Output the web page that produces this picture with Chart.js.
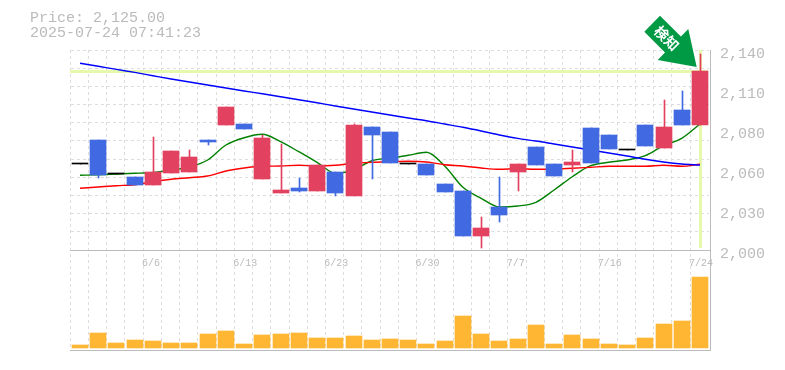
<!DOCTYPE html>
<html>
<head>
<meta charset="utf-8">
<style>html,body{margin:0;padding:0;background:#fff}canvas{display:block}</style>
<script src="https://cdn.jsdelivr.net/npm/chart.js@4"></script>
</head>
<body>
<canvas id="c" width="785" height="370"></canvas>
<script>
const categories = ['','','','','6/6','','','','','6/13','','','','','6/23','','','','','6/30','','','','','7/7','','','','','7/16','','','','','7/24'];
const openPrices  = [2060,2077,2053,2051.1,2045.5,2053.9,2054.6,2077,2087.5,2088.2,2049.7,2039.9,2043.4,2041.3,2054.6,2037.8,2086.1,2082.6,2060,2060.2,2046.2,2041.3,2009.8,2030.1,2054.6,2072.1,2060.2,2059.5,2085.4,2080.5,2069.8,2087.5,2071.4,2098,2087.5];
const closePrices = [2060,2052.7,2053,2045.5,2054.6,2069.3,2065.1,2075.6,2100.1,2084.7,2078.4,2042,2041.3,2059.5,2039.9,2087.5,2080.5,2060.9,2060,2052.5,2040.6,2009.8,2015.4,2024.5,2060.2,2059.5,2051.8,2061.6,2060.9,2070.7,2069.8,2072.8,2086.1,2087.5,2125];
const highPrices  = [2060,2077,2053,2051.1,2079.1,2069.3,2070,2077,2100.1,2088.2,2080.5,2074.2,2050.4,2059.5,2054.6,2088.2,2086.1,2082.6,2060,2060.2,2046.2,2041.3,2023.1,2051.1,2060.2,2072.1,2060.2,2070,2085.4,2080.5,2069.8,2087.5,2105,2111.3,2137.2];
const lowPrices   = [2060,2050.6,2053,2045.5,2045.5,2053.9,2054.6,2073.5,2087.5,2084.7,2049.7,2039.9,2040.6,2041.3,2037.8,2037.8,2049.7,2060.9,2060,2052.5,2040.6,2009.8,2001.4,2019.6,2041.3,2059.5,2051.8,2054.6,2060.9,2070.7,2069.8,2072.8,2071.4,2087.5,2087.5];
const blueLine  = [2130.7,2128.6,2126.4,2124.3,2122,2119.7,2117.6,2115.5,2113.4,2111.3,2109.4,2107.3,2105.2,2103.1,2100.8,2098.7,2096.6,2094.5,2092.4,2090.5,2088.2,2085.9,2083.3,2080.5,2078.1,2076.3,2074.2,2072.1,2070,2067.9,2065.8,2063.5,2061.6,2060.2,2059.5];
const redLine   = [2043.2,2044.1,2045,2045.7,2047.8,2049.5,2050.6,2051.8,2055.3,2057.4,2058.6,2058.8,2059.3,2058.8,2059.3,2060.7,2061.4,2061.8,2062.1,2061.6,2059.7,2058.8,2057.4,2056.5,2056.9,2056.5,2056.7,2057.2,2057.9,2058.6,2058.6,2058.6,2059.3,2058.6,2060];
const greenLine = [2052.3,2052.7,2053.2,2053.7,2054.3,2056,2058.1,2063,2073.5,2078.6,2081,2075.8,2068.8,2061.4,2053.7,2056,2062.5,2064.2,2066.3,2068.4,2058.8,2043.9,2036.2,2030.1,2030.8,2033.4,2042,2051.3,2059,2061.4,2063,2066,2073,2078.2,2088.2];
const volumes = [3,15,5,8,7,5,5,14,17,4,13,14,15,10,10,12,8,9,8,4,7,32,14,7,9,23,4,13,9,4,3,10,24,27,71];
const priceTicks  = [2140,2112,2084,2056,2028,2000];
const priceLabels = ['2,140','2,110','2,080','2,060','2,030','2,000'];
const gridPrices = [2140,2127.3,2114.5,2101.8,2089.1,2076.4,2063.6,2050.9,2038.2,2025.5,2012.7,2000];
const titleLines = ['Price: 2,125.00','2025-07-24 07:41:23'];
const signalPrice = 2125;
const signalText = ['検','知'];

const RED='#e2425f', BLUE='#4169e1', GRID='#dddddd', FRAME='#bbbbbb', TXT='#bbbbbb', HL='#e6f8ab';
const candleColor = openPrices.map((o,i)=> o===closePrices[i] ? '#000000' : (closePrices[i]>o ? RED : BLUE));
const MONO = '"Liberation Mono", monospace';

const snapBars = {
  id:'snapBars',
  afterDatasetsUpdate(chart){
    chart.data.datasets.forEach((ds,i)=>{
      if(ds.type!=='bar') return;
      chart.getDatasetMeta(i).data.forEach(el=>{
        el.x = Math.round(el.x) + (ds.isWick ? 0.5 : 0);
        el.y = Math.round(el.y);
        el.base = Math.round(el.base);
        if(el.base===el.y && !ds.isWick) el.base = el.y+1;
      });
    });
  }
};
const shiftAxis = { id:'shiftAxis', afterLayout(chart){ chart.scales.price.left = 710; } };
const highlight = {
  id:'highlight',
  beforeDatasetsDraw(chart){
    const {ctx,scales:{price,x},chartArea:a}=chart;
    ctx.save();
    ctx.fillStyle=HL;
    const yp=Math.round(price.getPixelForValue(signalPrice));
    ctx.fillRect(a.left-1,yp-1,a.right-a.left,3);
    const xp=Math.round(x.getPixelForValue(categories.length-1));
    ctx.fillRect(xp-1,a.top,3,price.getPixelForValue(2000)-a.top-2);
    ctx.restore();
  }
};
const overlay = {
  id:'overlay',
  afterDraw(chart){
    const {ctx}=chart;
    ctx.save();
    ctx.fillStyle=TXT;
    ctx.font='15px '+MONO;
    ctx.textAlign='left';
    ctx.textBaseline='middle';
    ctx.fillText(titleLines[0],30,18);
    ctx.fillText(titleLines[1],30,33);
    const pts=[[660,15.7],[680.9,36.6],[688.3,29],[696.7,67],[657.7,60],[665,52.5],[644.3,31.7]];
    ctx.fillStyle='#009944';
    ctx.beginPath();
    pts.forEach((p,i)=> i?ctx.lineTo(p[0],p[1]):ctx.moveTo(p[0],p[1]));
    ctx.closePath();ctx.fill();
    ctx.fillStyle='#ffffff';
    ctx.font='bold 14px "Noto Sans CJK JP"';
    ctx.textAlign='center';
    [[661.7,33.3],[671.7,43.3]].forEach((p,i)=>{
      ctx.save();ctx.translate(p[0],p[1]);ctx.rotate(Math.PI/4);ctx.fillText(signalText[i],0,0);ctx.restore();
    });
    ctx.restore();
  }
};
const lineDs=(data,color)=>({type:'line',data,borderColor:color,borderWidth:1.4,pointRadius:0,cubicInterpolationMode:'monotone',fill:false,yAxisID:'price',xAxisID:'x',order:3});

new Chart(document.getElementById('c'),{
  data:{
    labels:categories,
    datasets:[
      {type:'bar',data:volumes,backgroundColor:'#ffb733',barThickness:16,grouped:false,yAxisID:'vol',xAxisID:'x',order:4},
      lineDs(blueLine,'#0000ff'),
      lineDs(redLine,'#ff0000'),
      lineDs(greenLine,'#008000'),
      {type:'bar',isWick:true,data:highPrices.map((h,i)=>[lowPrices[i],h]),backgroundColor:candleColor,barThickness:1,grouped:false,yAxisID:'price',xAxisID:'x',order:2},
      {type:'bar',data:openPrices.map((o,i)=>[o,closePrices[i]]),backgroundColor:candleColor,barThickness:16,minBarLength:1,grouped:false,yAxisID:'price',xAxisID:'x',order:1}
    ]
  },
  options:{
    responsive:false,animation:false,
    layout:{padding:{left:70.9,top:50,bottom:20,right:0}},
    plugins:{legend:{display:false},tooltip:{enabled:false},title:{display:false}},
    scales:{
      price:{
        axis:'y',type:'linear',position:'right',min:1930,max:2140,
        afterFit(s){s.width=75.9;},
        afterBuildTicks(s){s.ticks=priceTicks.map(value=>({value}));},
        grid:{display:false,drawTicks:false},
        border:{display:true,color:FRAME,width:1},
        ticks:{autoSkip:false,color:TXT,font:{family:MONO,size:15},padding:10,labelOffset:4,callback:(v,i)=>priceLabels[i]}
      },
      yGrid:{
        axis:'y',type:'linear',position:'left',min:1930,max:2140,
        afterFit(s){s.width=0;},
        afterBuildTicks(s){s.ticks=gridPrices.map(value=>({value}));},
        grid:{color:GRID,lineWidth:1,drawTicks:false},
        border:{display:false,dash:[3,3]},
        ticks:{display:false,autoSkip:false}
      },
      vol:{axis:'y',type:'linear',display:false,min:-2,max:298},
      xGrid:{
        axis:'x',type:'linear',position:{price:1930},min:0,max:35,
        afterBuildTicks(s){s.ticks=categories.map((c,k)=>({value:k-0.038}));},
        grid:{color:GRID,lineWidth:1,drawTicks:false},
        border:{display:true,color:FRAME,width:1,dash:[3,3]},
        ticks:{display:false,autoSkip:false}
      },
      x:{
        axis:'x',type:'category',position:{price:2000},offset:true,
        grid:{display:false,drawTicks:false,offset:true},
        border:{display:true,color:FRAME,width:1},
        ticks:{autoSkip:false,minRotation:0,maxRotation:0,align:'start',labelOffset:-11,padding:7,color:TXT,font:{family:MONO,size:10}}
      }
    }
  },
  plugins:[snapBars,shiftAxis,highlight,overlay]
});
</script>
</body>
</html>
